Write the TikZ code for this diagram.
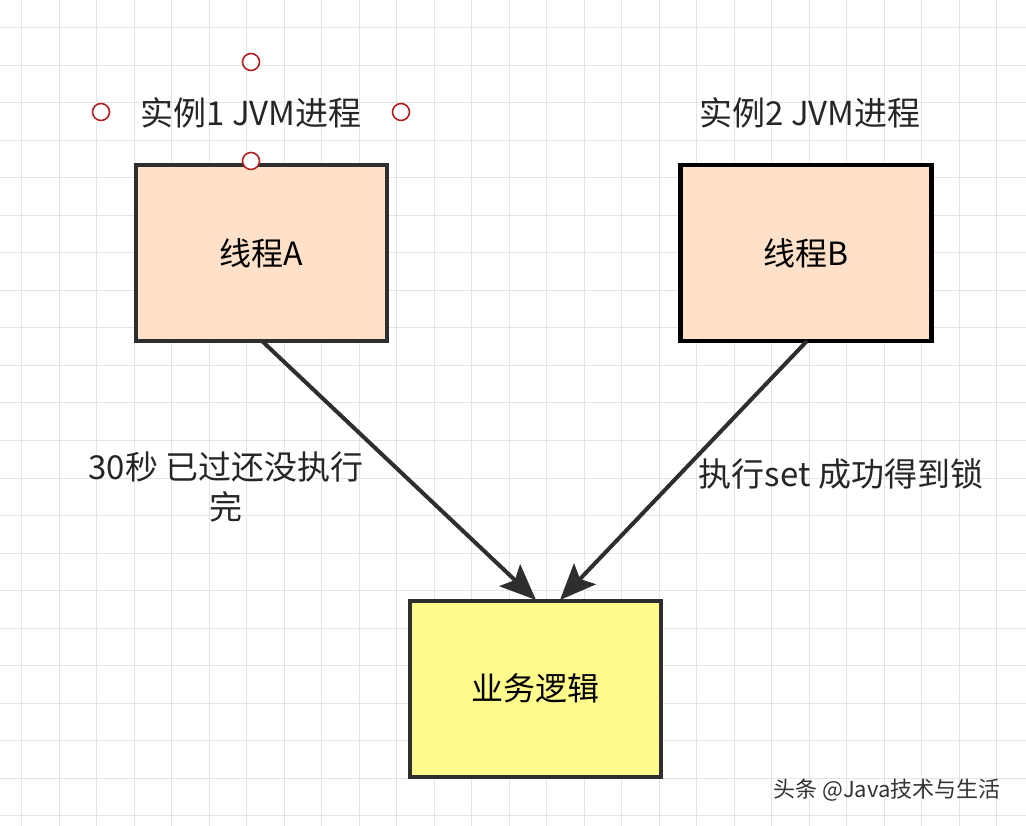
\documentclass[tikz,border=0pt]{standalone}
\usepackage{fontspec}
\setmainfont{Noto Sans CJK SC}
\usetikzlibrary{arrows.meta}
\definecolor{gridc}{HTML}{E4E4E4}
\definecolor{peach}{HTML}{FFE0C8}
\definecolor{yel}{HTML}{FFFA8C}
\definecolor{edge}{HTML}{2E2E2E}
\definecolor{hred}{HTML}{B22222}
\tikzset{
  box/.style={draw=edge, line width=4pt, minimum width=251pt, minimum height=176pt, inner sep=0pt, font=\fontsize{32}{36}\selectfont},
  lbl/.style={font=\fontsize{33}{36}\selectfont, inner sep=0pt, text=black!85},
  conn/.style={draw=edge, line width=4pt, -{Stealth[length=36pt,width=30pt,inset=7pt]}},
  handle/.style={circle, draw=hred, line width=1.6pt, fill=white, minimum size=17pt, inner sep=0pt}
}
\begin{document}
\begin{tikzpicture}[x=1pt,y=-1pt]
\fill[white] (0,0) rectangle (1026,826);
\useasboundingbox (0,0) rectangle (1026,826);
\foreach \i in {0,...,27} {
  \draw[gridc, line width=1pt] ({21.7+37.5*\i},0) -- ({21.7+37.5*\i},826);
}
\foreach \j in {0,...,21} {
  \draw[gridc, line width=1pt] (0,{28+37.5*\j}) -- (1026,{28+37.5*\j});
}
\node[box, fill=peach] (A) at (261.5,253) {线程A};
\node[box, fill=peach, draw=black, line width=4.5pt] (B) at (806,253) {线程B};
\node[box, fill=yel] (C) at (535.5,688.5) {业务逻辑};
\node[lbl] (LA) at (251,113) {实例1 JVM进程};
\node[lbl] (LB) at (810,113) {实例2 JVM进程};
\node[handle] (h1) at (251,62) {};
\node[handle] (h2) at (101,112) {};
\node[handle] (h3) at (401,112) {};
\node[handle] (h4) at (251,161) {};
\coordinate (As) at (262,341);
\coordinate (Ae) at (536,600);
\coordinate (Bs) at (807,341);
\coordinate (Be) at (560,600);
\draw[conn] (As) -- (Ae);
\draw[conn] (Bs) -- (Be);
\node[lbl, align=center, font=\fontsize{33}{40}\selectfont] (TA) at (226,487) {30秒 已过还没执行\\完};
\node[lbl, font=\fontsize{33}{36}\selectfont] (TB) at (841,474) {执行set 成功得到锁};
\node[lbl, font=\fontsize{22}{26}\selectfont, text=black!80] (W) at (887,790) {头条 @Java技术与生活};
\end{tikzpicture}
\end{document}
